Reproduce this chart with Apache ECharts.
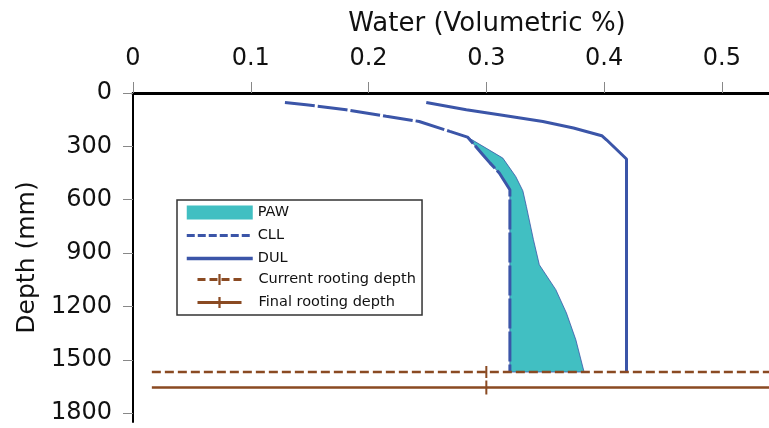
<!DOCTYPE html>
<html>
<head>
<meta charset="utf-8">
<title>Water profile</title>
<script src="https://cdn.jsdelivr.net/npm/echarts@6/dist/echarts.min.js"></script>
<style>
  html, body { margin: 0; padding: 0; background: #fff; }
  #main { width: 769px; height: 428px; }
</style>
</head>
<body>
<div id="main"></div>
<script>
// tick labels
var waterTicks = [0, 0.1, 0.2, 0.3, 0.4, 0.5]
var depthTicks = [0, 300, 600, 900, 1200, 1500, 1800]

// crop lower limit (CLL)
var cllWater = [0.129, 0.147, 0.181, 0.215, 0.243, 0.269, 0.284, 0.297, 0.303, 0.311, 0.320, 0.320]
var cllDepth = [53, 66, 94, 131, 160, 216, 248, 347, 393, 450, 544, 1569]

// drained upper limit (DUL)
var dulWater = [0.249, 0.283, 0.311, 0.348, 0.374, 0.398, 0.402, 0.419, 0.419]
var dulDepth = [53, 94, 122, 160, 197, 240, 263, 371, 1569]

// right edge of the PAW area (left edge is CLL)
var pawWater = [0.284, 0.314, 0.325, 0.331, 0.334, 0.340, 0.345, 0.359, 0.368, 0.376, 0.383]
var pawDepth = [248, 366, 470, 550, 638, 825, 966, 1106, 1237, 1388, 1569]

// rooting depths
var rootWater = [0.016, 0.3, 0.54]
var currentRootDepth = 1569
var finalRootDepth = 1656

var BLUE = '#3b55a8'
var TEAL = '#41bfc2'
var BROWN = '#8a4a22'
var FONT = 'DejaVu Sans'
var TICK_PATH = 'path://M0,0 L0.01,0 M4,0 L6,0 L6,10 L4,10 Z M10,10 L9.99,10'

function pairs(xs, ys) {
  var out = []
  for (var i = 0; i < xs.length; i++) out.push([xs[i], ys[i]])
  return out
}

function rootLine(depth) {
  return rootWater.map(function (w, i) {
    return { value: [w, depth], symbol: i === 1 ? TICK_PATH : 'none' }
  })
}

var chart = echarts.init(document.getElementById('main'))

var option = {
  animation: false,
  textStyle: { fontFamily: FONT },
  grid: { left: 133, top: 93, right: 0, bottom: 6 },
  legend: [
    {
      orient: 'vertical',
      left: 177,
      top: 200,
      padding: [5, 133, 49, 8],
      itemWidth: 66,
      itemHeight: 14,
      itemGap: 8,
      borderColor: '#333',
      borderWidth: 1.5,
      selectedMode: false,
      textStyle: { fontFamily: FONT, fontSize: 14.5, color: '#111' },
      data: [
        { name: 'PAW', icon: 'rect' },
        { name: 'CLL', lineStyle: { type: [8, 3], width: 3 }, itemStyle: { opacity: 0 } },
        { name: 'DUL', lineStyle: { width: 3.5 }, itemStyle: { opacity: 0 } }
      ]
    },
    {
      orient: 'vertical',
      left: 196,
      top: 272,
      padding: 0,
      itemWidth: 44,
      itemHeight: 14,
      itemGap: 8,
      selectedMode: false,
      textStyle: { fontFamily: FONT, fontSize: 14.5, color: '#111', padding: [0, 0, 0, 12] },
      data: [
        { name: 'Current rooting depth', lineStyle: { width: 3, type: [8, 4] } },
        { name: 'Final rooting depth', lineStyle: { width: 3 } }
      ]
    }
  ],
  xAxis: {
    type: 'value',
    position: 'top',
    min: 0,
    max: 0.54,
    name: 'Water (Volumetric %)',
    nameLocation: 'middle',
    nameGap: 56,
    nameTextStyle: { fontFamily: FONT, fontSize: 26, color: '#111', padding: [0, 0, 0, 72] },
    axisLine: { lineStyle: { color: '#000', width: 3 } },
    axisTick: { customValues: waterTicks, length: 11, lineStyle: { color: '#888', width: 1 } },
    axisLabel: { customValues: waterTicks, margin: 22, fontSize: 24, color: '#111' },
    splitLine: { show: false }
  },
  yAxis: {
    type: 'value',
    inverse: true,
    min: 0,
    max: 1850,
    name: 'Depth (mm)',
    nameLocation: 'middle',
    nameGap: 90,
    nameTextStyle: { fontFamily: FONT, fontSize: 25, color: '#111' },
    axisLine: { show: true, lineStyle: { color: '#000', width: 2 } },
    axisTick: { show: true, customValues: depthTicks, length: 10, lineStyle: { color: '#888', width: 1 } },
    axisLabel: {
      customValues: depthTicks,
      margin: 21,
      fontSize: 24,
      color: '#111',
      formatter: function (v) { return String(v) }
    },
    splitLine: { show: false }
  },
  series: [
    {
      name: 'PAW',
      type: 'custom',
      itemStyle: { color: TEAL },
      data: [0],
      clip: true,
      renderItem: function (params, api) {
        var pts = []
        var i
        for (i = 0; i < cllWater.length; i++) {
          if (cllDepth[i] >= pawDepth[0]) pts.push(api.coord([cllWater[i], cllDepth[i]]))
        }
        for (i = pawWater.length - 1; i >= 0; i--) {
          pts.push(api.coord([pawWater[i], pawDepth[i]]))
        }
        return {
          type: 'polygon',
          shape: { points: pts },
          style: { fill: TEAL, stroke: BLUE, lineWidth: 0.8 }
        }
      }
    },
    {
      name: 'CLL',
      type: 'line',
      symbol: 'none',
      color: BLUE,
      lineStyle: { color: BLUE, width: 3, type: [30, 3] },
      data: pairs(cllWater, cllDepth)
    },
    {
      name: 'DUL',
      type: 'line',
      symbol: 'none',
      color: BLUE,
      lineStyle: { color: BLUE, width: 3 },
      data: pairs(dulWater, dulDepth)
    },
    {
      name: 'Current rooting depth',
      type: 'line',
      symbol: TICK_PATH,
      symbolSize: [10, 12],
      showSymbol: true,
      color: BROWN,
      itemStyle: { color: BROWN, borderWidth: 0 },
      lineStyle: { color: BROWN, width: 2.5, type: [9, 4] },
      data: rootLine(currentRootDepth)
    },
    {
      name: 'Final rooting depth',
      type: 'line',
      symbol: TICK_PATH,
      symbolSize: [10, 14],
      showSymbol: true,
      color: BROWN,
      itemStyle: { color: BROWN, borderWidth: 0 },
      lineStyle: { color: BROWN, width: 2.5 },
      data: rootLine(finalRootDepth)
    }
  ]
}

chart.setOption(option)
</script>
</body>
</html>
